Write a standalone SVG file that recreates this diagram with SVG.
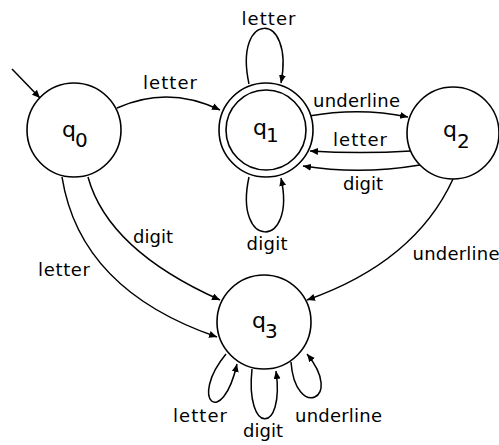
<svg xmlns="http://www.w3.org/2000/svg" width="499" height="445" viewBox="0 0 499 445">
  <defs>
    <marker id="arrow" markerUnits="userSpaceOnUse" markerWidth="9" markerHeight="8" refX="8" refY="3.5" orient="auto">
      <path d="M0,0 L8,3.5 L0,7 z" fill="#000"/>
    </marker>
    <style>
      .state { fill: #fff; stroke: #000; stroke-width: 1.6; }
      .edge { fill: none; stroke: #000; stroke-width: 1.5; marker-end: url(#arrow); }
      .lbl { font-family: "DejaVu Sans", "Liberation Sans", sans-serif; font-size: 18px; fill: #000; text-anchor: middle; }
      .q { font-family: "DejaVu Sans", "Liberation Sans", sans-serif; font-size: 22px; fill: #000; }
      .sub { font-size: 20px; }
    </style>
  </defs>

  <rect width="499" height="445" fill="#fff"/>

  <!-- transitions -->
  <g id="edges">
    <path class="edge" d="M12,69 L40,98"/>
    <path class="edge" d="M117,108 Q168,85 220,110"/>
    <path class="edge" d="M249,84 C233,10 295,10 281,83"/>
    <path class="edge" d="M249,177 C233,250 297,250 281,178"/>
    <path class="edge" d="M309,116 Q360,107 408,117"/>
    <path class="edge" d="M411,151 Q360,154 310,151"/>
    <path class="edge" d="M420,165 Q360,175 303,166"/>
    <path class="edge" d="M88,177 Q108,250 220,300"/>
    <path class="edge" d="M62,177 Q80,290 217,337"/>
    <path class="edge" d="M453,179 Q415,262 307,300"/>
    <path class="edge" d="M226,354 C188,400 222,430 237,364"/>
    <path class="edge" d="M252,369 C245,435 285,435 276,371"/>
    <path class="edge" d="M291,362 C295,420 345,400 307,354"/>

    <text class="lbl" x="268.5" y="25" textLength="54">letter</text>
    <text class="lbl" x="170" y="89" textLength="54">letter</text>
    <text class="lbl" x="356.5" y="107" textLength="87">underline</text>
    <text class="lbl" x="360" y="146" textLength="54">letter</text>
    <text class="lbl" x="363" y="190" textLength="40">digit</text>
    <text class="lbl" x="267" y="250" textLength="41">digit</text>
    <text class="lbl" x="153" y="243" textLength="40">digit</text>
    <text class="lbl" x="64" y="276" textLength="52">letter</text>
    <text class="lbl" x="456" y="260" textLength="87">underline</text>
    <text class="lbl" x="200" y="422" textLength="54">letter</text>
    <text class="lbl" x="263" y="437" textLength="40">digit</text>
    <text class="lbl" x="338.5" y="422" textLength="87">underline</text>
  </g>

  <!-- states -->
  <g id="q0">
    <circle class="state" cx="74" cy="130" r="47"/>
    <text class="q" x="62" y="137">q<tspan class="sub" x="75" y="147">0</tspan></text>
  </g>
  <g id="q1">
    <circle class="state" cx="266" cy="130" r="47"/>
    <circle class="state" cx="266" cy="130" r="40"/>
    <text class="q" x="253" y="135">q<tspan class="sub" x="266" y="142">1</tspan></text>
  </g>
  <g id="q2">
    <circle class="state" cx="453" cy="133" r="46"/>
    <text class="q" x="443" y="137">q<tspan class="sub" x="457" y="148">2</tspan></text>
  </g>
  <g id="q3">
    <circle class="state" cx="264" cy="322" r="47"/>
    <text class="q" x="252" y="328">q<tspan class="sub" x="265" y="338">3</tspan></text>
  </g>
</svg>
